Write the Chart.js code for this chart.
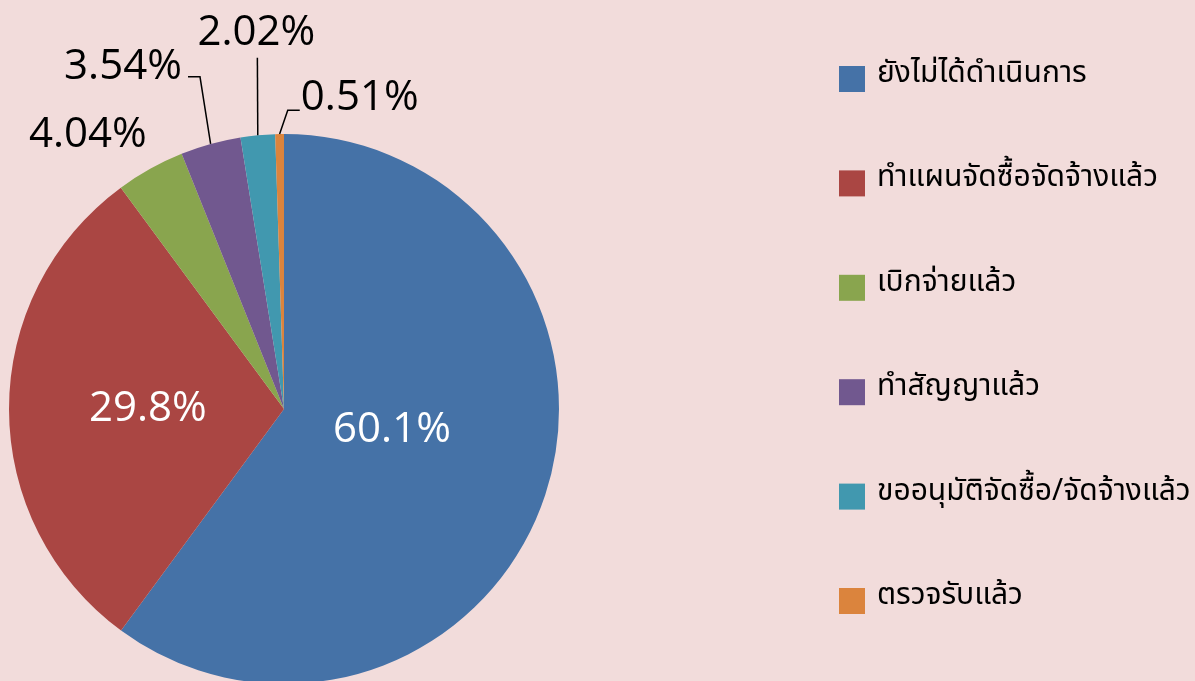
<!DOCTYPE html>
<html>
<head>
<meta charset="utf-8">
<script src="https://cdn.jsdelivr.net/npm/chart.js@4"></script>
<style>
  html, body { margin: 0; padding: 0; background: #F2DCDB; overflow: hidden; }
  canvas { display: block; }
</style>
</head>
<body>
<canvas id="pieChart" width="1195" height="700"></canvas>
<script>
// ข้อมูลของกราฟ
const categories = ['ยังไม่ได้ดำเนินการ', 'ทำแผนจัดซื้อจัดจ้างแล้ว', 'เบิกจ่ายแล้ว', 'ทำสัญญาแล้ว', 'ขออนุมัติจัดซื้อ/จัดจ้างแล้ว', 'ตรวจรับแล้ว'];
const values = [60.1, 29.8, 4.04, 3.54, 2.02, 0.51];
const valueLabels = ['60.1%', '29.8%', '4.04%', '3.54%', '2.02%', '0.51%'];
const colors = ['#4572A7', '#AA4643', '#89A54E', '#71588F', '#4198AF', '#DB843D'];

// ตำแหน่ง label: [ระยะเทียบรัศมี, มุม (องศา), สีตัวอักษร]
const labelPlace = [
    { r: 0.40, a: 11, color: '#ffffff' },
    { r: 0.495, a: 180, color: '#ffffff' },
    { r: 1.225, a: 234.4, color: '#000000' },
    { r: 1.375, a: 244.8, color: '#000000', bend: [77, 10], tail: [65, 10] },
    { r: 1.372, a: 265.8, color: '#000000', bend: [1, 25] },
    { r: 1.163, a: 283.7, color: '#000000', bend: [-72, 12], tail: [-60, 12] }
];

const labelFont = '42px "Open Sans", "Liberation Sans", sans-serif';
const legendFont = '30px "Noto Sans Thai", "Noto Sans", Tahoma, sans-serif';

// --- วาด label ของแต่ละชิ้น ---
const sliceLabels = {
    id: 'sliceLabels',
    afterDatasetsDraw(chart) {
        const ctx = chart.ctx;
        const arcs = chart.getDatasetMeta(0).data;
        ctx.save();
        ctx.font = labelFont;
        ctx.textAlign = 'center';
        ctx.textBaseline = 'middle';
        arcs.forEach((arc, i) => {
            const p = labelPlace[i];
            const rad = p.a * Math.PI / 180;
            const lx = arc.x + Math.cos(rad) * arc.outerRadius * p.r;
            const ly = arc.y + Math.sin(rad) * arc.outerRadius * p.r;
            if (p.bend) {
                const mid = (arc.startAngle + arc.endAngle) / 2;
                const ex = arc.x + Math.cos(mid) * arc.outerRadius;
                const ey = arc.y + Math.sin(mid) * arc.outerRadius;
                ctx.strokeStyle = '#000000';
                ctx.lineWidth = 1.5;
                ctx.beginPath();
                ctx.moveTo(ex, ey);
                ctx.lineTo(lx + p.bend[0], ly + p.bend[1]);
                if (p.tail) ctx.lineTo(lx + p.tail[0], ly + p.tail[1]);
                ctx.stroke();
            }
            ctx.fillStyle = p.color;
            ctx.fillText(valueLabels[i], lx, ly);
        });
        ctx.restore();
    }
};

// --- legend ด้านขวา ---
const sideLegend = {
    id: 'sideLegend',
    afterDraw(chart) {
        const ctx = chart.ctx;
        const x0 = 839, y0 = 79, step = 104.4, box = 26;
        ctx.save();
        ctx.font = legendFont;
        ctx.textAlign = 'left';
        ctx.textBaseline = 'middle';
        chart.data.labels.forEach((lbl, i) => {
            const y = y0 + i * step;
            ctx.fillStyle = chart.data.datasets[0].backgroundColor[i];
            ctx.fillRect(x0, y - box / 2, box, box);
            ctx.fillStyle = '#000000';
            ctx.fillText(lbl, x0 + 38, y - 3);
        });
        ctx.restore();
    }
};

new Chart(document.getElementById('pieChart').getContext('2d'), {
    type: 'pie',
    data: {
        labels: categories,
        datasets: [{ data: values, backgroundColor: colors, borderWidth: 0 }]
    },
    options: {
        responsive: false,
        animation: false,
        layout: { padding: { left: 9, top: 134, right: 636, bottom: 16 } },
        plugins: { legend: { display: false }, tooltip: { enabled: false } }
    },
    plugins: [sliceLabels, sideLegend]
});
</script>
</body>
</html>
